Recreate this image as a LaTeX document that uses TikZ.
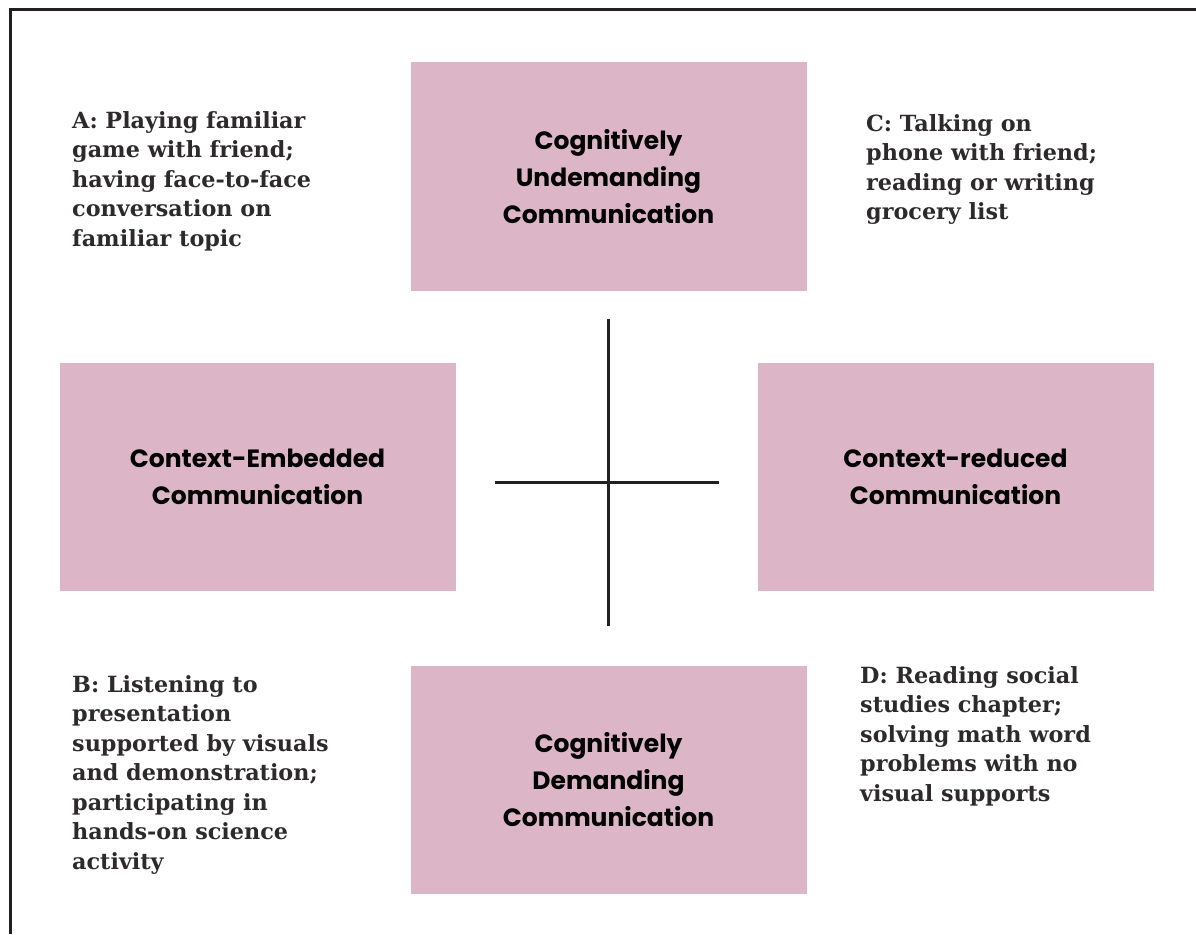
\documentclass[tikz,border=0pt]{standalone}
\usepackage{fontspec}
\newfontfamily\notefont{DejaVu Serif}
\newfontfamily\boxfont{Poppins}
\definecolor{boxpink}{HTML}{DCB6C7}
\definecolor{notegrey}{HTML}{2E2A2B}
\definecolor{rule}{HTML}{231F20}
\begin{document}
\begin{tikzpicture}[x=1pt,y=-1pt,
  quadbox/.style={fill=boxpink, draw=none, minimum width=396pt, minimum height=228pt,
    inner sep=0pt, align=center, font=\boxfont\bfseries\fontsize{25}{37}\selectfont, text=black},
  note/.style={anchor=north west, inner sep=0pt, align=left, text=notegrey,
    font=\notefont\bfseries\fontsize{22.3}{29.5}\selectfont},
  axis/.style={draw=rule, line width=3pt}]
  \useasboundingbox (0,0) rectangle (1196,934);
  % frame edges
  \coordinate (fbl) at (10,934);
  \coordinate (ftl) at (10,10);
  \coordinate (ftr) at (1196,10);
  \draw[rule, line width=3pt] (fbl) -- (ftl) -- (ftr);

  % the four quadrant labels
  \node[quadbox] (top)    at (608.5,176.5) {Cognitively\\Undemanding\\Communication};
  \node[quadbox] (left)   at (257.5,476.5) {Context-Embedded\\Communication};
  \node[quadbox] (right)  at (955.5,476.5) {Context-reduced\\Communication};
  \node[quadbox] (bottom) at (608.5,779.5) {Cognitively\\Demanding\\Communication};

  % axes
  \coordinate (vtop) at (608,319);
  \coordinate (vbot) at (608,626);
  \coordinate (hl) at (495,482);
  \coordinate (hr) at (719,482);
  \draw[axis] (vtop) -- (vbot);
  \draw[axis] (hl) -- (hr);

  % example activities
  \node[note] (a) at (72,111) {A: Playing familiar\\game with friend;\\having face-to-face\\conversation on\\familiar topic};
  \node[note] (c) at (866,114) {C: Talking on\\phone with friend;\\reading or writing\\grocery list};
  \node[note] (b) at (72,675) {B: Listening to\\presentation\\supported by visuals\\and demonstration;\\participating in\\hands-on science\\activity};
  \node[note] (d) at (860,666) {D: Reading social\\studies chapter;\\solving math word\\problems with no\\visual supports};
\end{tikzpicture}
\end{document}
